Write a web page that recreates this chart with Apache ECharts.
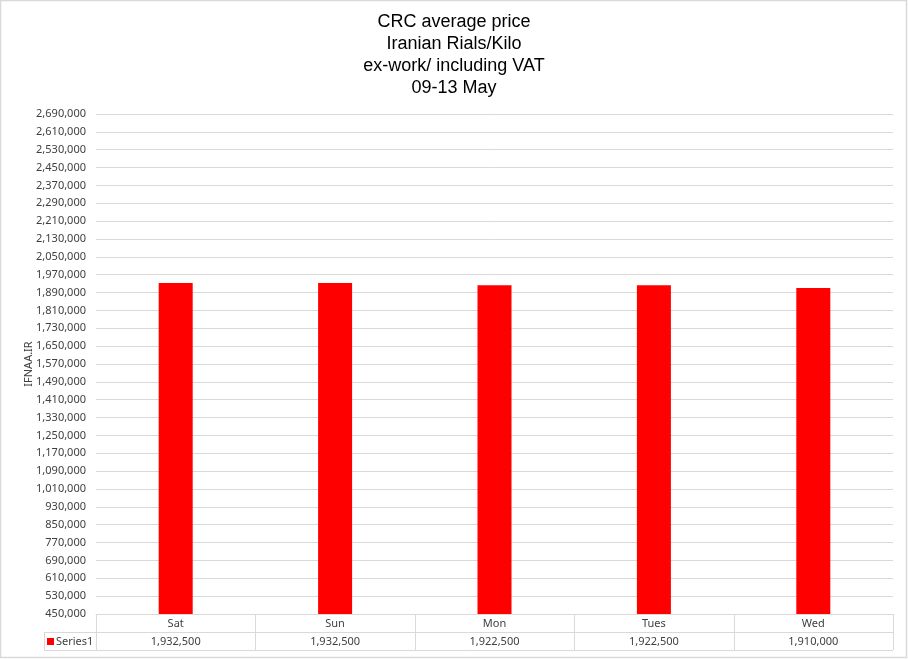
<!DOCTYPE html>
<html lang="en">
<head>
  <meta charset="UTF-8">
  <title>CRC average price</title>
  <script src="https://cdn.jsdelivr.net/npm/echarts@6/dist/echarts.min.js"></script>
  <style>
    html, body { margin: 0; padding: 0; background: #fff; }
    #chart { width: 908px; height: 659px; }
  </style>
</head>
<body>
  <div id="chart"></div>
  <script>
    // data
    const days = ['Sat', 'Sun', 'Mon', 'Tues', 'Wed'];
    const prices = [1932500, 1932500, 1922500, 1922500, 1910000];
    const seriesName = 'Series1';

    const fmt = v => Number(v).toLocaleString('en-US');

    // layout
    const L = 96, R = 893, TOP = 114, AXIS_Y = 614;
    const ROW = 18, TABLE_LEFT = 44;
    const lineColor = '#d9d9d9';
    const labelFont = { fontFamily: 'Noto Sans, DejaVu Sans, sans-serif', fontSize: 11, color: '#404040' };

    // table grid lines
    const tableLines = [];
    const hl = (x1, x2, y) => tableLines.push({ type: 'line', shape: { x1, y1: y + 0.5, x2, y2: y + 0.5 }, style: { stroke: lineColor, lineWidth: 1 } });
    const vl = (x, y1, y2) => tableLines.push({ type: 'line', shape: { x1: x + 0.5, y1, x2: x + 0.5, y2 }, style: { stroke: lineColor, lineWidth: 1 } });
    hl(TABLE_LEFT, R, AXIS_Y + ROW);
    hl(TABLE_LEFT, R, AXIS_Y + 2 * ROW);
    vl(TABLE_LEFT, AXIS_Y + ROW, AXIS_Y + 2 * ROW);
    const step = (R - L) / days.length;
    for (let i = 0; i <= days.length; i++) {
      vl(Math.round(L + i * step), AXIS_Y, AXIS_Y + 2 * ROW);
    }
    // outer border
    tableLines.push({ type: 'rect', shape: { x: 0.5, y: 0.5, width: 906, height: 657 }, style: { fill: 'none', stroke: lineColor, lineWidth: 1.5 } });

    const chart = echarts.init(document.getElementById('chart'));
    chart.setOption({
      animation: false,
      title: {
        text: 'CRC average price\nIranian Rials/Kilo\nex-work/ including VAT\n09-13 May',
        left: 'center',
        top: 6,
        textStyle: {
          fontFamily: 'Liberation Sans Narrow, Liberation Sans, Arial, sans-serif',
          fontSize: 18,
          fontWeight: 'normal',
          lineHeight: 22,
          color: '#000'
        }
      },
      legend: {
        left: TABLE_LEFT + 3,
        top: AXIS_Y + ROW + 4,
        icon: 'rect',
        itemWidth: 7,
        itemHeight: 7,
        itemGap: 2,
        padding: 0,
        textStyle: Object.assign({}, labelFont, { padding: [0, 0, 0, -3] }),
        data: [seriesName]
      },
      grid: { left: L, right: 908 - R, top: TOP, bottom: 659 - AXIS_Y, containLabel: false },
      xAxis: [
        {
          type: 'category',
          data: days,
          axisLine: { show: true, lineStyle: { color: lineColor } },
          axisTick: { show: false },
          axisLabel: Object.assign({ margin: 4 }, labelFont)
        },
        {
          type: 'category',
          position: 'bottom',
          offset: ROW,
          data: prices.map(fmt),
          axisLine: { show: false },
          axisTick: { show: false },
          axisLabel: Object.assign({ margin: 4 }, labelFont)
        }
      ],
      yAxis: {
        type: 'value',
        min: 450000,
        max: 2690000,
        interval: 80000,
        name: 'IFNAA.IR',
        nameLocation: 'middle',
        nameRotate: 90,
        nameGap: 62,
        nameMoveOverlap: false,
        nameTextStyle: labelFont,
        axisLine: { show: false },
        axisTick: { show: false },
        splitLine: { lineStyle: { color: lineColor } },
        axisLabel: Object.assign({ margin: 10, formatter: fmt }, labelFont)
      },
      series: [{
        name: seriesName,
        type: 'bar',
        data: prices,
        barWidth: 34,
        itemStyle: { color: '#ff0000' }
      }],
      graphic: tableLines
    });
  </script>
</body>
</html>
